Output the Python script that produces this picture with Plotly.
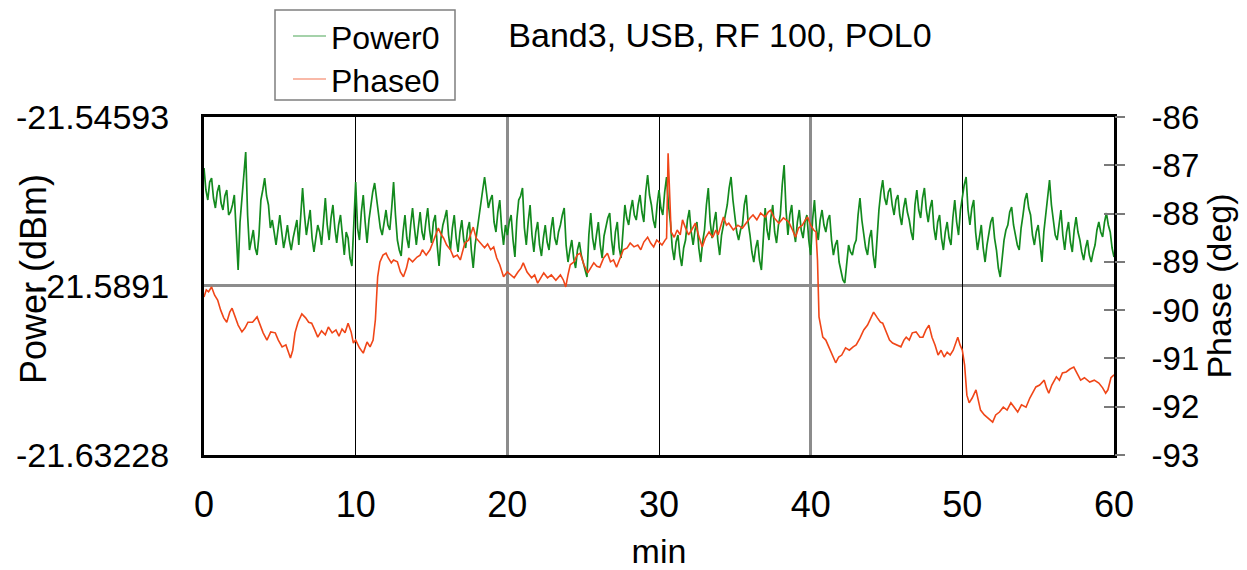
import plotly.graph_objects as go

# ---- data -------------------------------------------------------------
# Power0 (dBm), one sample every 0.125 min over the hour
power_minutes = [i * 0.125 for i in range(481)]
power_dbm = [
    -21.55896, -21.56458, -21.56714, -21.56254, -21.56152, -21.56663, -21.56918, -21.56509, -21.56330, -21.56790,
    -21.56969, -21.56611, -21.56458, -21.57097, -21.57020, -21.56841, -21.56586, -21.57736, -21.58502, -21.57276,
    -21.56714, -21.55947, -21.55487, -21.57097, -21.57991, -21.57736, -21.57480, -21.57940, -21.58119, -21.57608,
    -21.56714, -21.56458, -21.56152, -21.56611, -21.56841, -21.57429, -21.57225, -21.57531, -21.57863, -21.57480,
    -21.57097, -21.57531, -21.57940, -21.57685, -21.57352, -21.57736, -21.57991, -21.57685, -21.57480, -21.57225,
    -21.57863, -21.57020, -21.56407, -21.57097, -21.57608, -21.57276, -21.56969, -21.57685, -21.58042, -21.57685,
    -21.57352, -21.57531, -21.57863, -21.57276, -21.56663, -21.57352, -21.57736, -21.57174, -21.56841, -21.57429,
    -21.57812, -21.57352, -21.57097, -21.57608, -21.58119, -21.57531, -21.57685, -21.58196, -21.58400, -21.57352,
    -21.56254, -21.57429, -21.57736, -21.57020, -21.56586, -21.57276, -21.57812, -21.57225, -21.56841, -21.56509,
    -21.56279, -21.56714, -21.57097, -21.57429, -21.57608, -21.57276, -21.56969, -21.57352, -21.57480, -21.56918,
    -21.56254, -21.57097, -21.57736, -21.57991, -21.58144, -21.57531, -21.57097, -21.57685, -21.57940, -21.57352,
    -21.56918, -21.57429, -21.57863, -21.57429, -21.57020, -21.57531, -21.57736, -21.57276, -21.56918, -21.57480,
    -21.57812, -21.57276, -21.57097, -21.57863, -21.58400, -21.57685, -21.57352, -21.57174, -21.56969, -21.57608,
    -21.57991, -21.57429, -21.57097, -21.57685, -21.58042, -21.57531, -21.57225, -21.57736, -21.57940, -21.57480,
    -21.57276, -21.57991, -21.58451, -21.57863, -21.57480, -21.57225, -21.56841, -21.56458, -21.56126, -21.56586,
    -21.56918, -21.56714, -21.56586, -21.57276, -21.57531, -21.57020, -21.56714, -21.57429, -21.57863, -21.57352,
    -21.57608, -21.57276, -21.57097, -21.57736, -21.58170, -21.57225, -21.56714, -21.56611, -21.56407, -21.57429,
    -21.57863, -21.57276, -21.56841, -21.57608, -21.58042, -21.57531, -21.57276, -21.57863, -21.58144, -21.57685,
    -21.57352, -21.57787, -21.57991, -21.57480, -21.57148, -21.57685, -21.57863, -21.57531, -21.57352, -21.57097,
    -21.56918, -21.57863, -21.58298, -21.57991, -21.57736, -21.58196, -21.58451, -21.57991, -21.57787, -21.58119,
    -21.58298, -21.58502, -21.58681, -21.57608, -21.57046, -21.57685, -21.57991, -21.57608, -21.57276, -21.57863,
    -21.58196, -21.57633, -21.57352, -21.57174, -21.57046, -21.57736, -21.58119, -21.57531, -21.57276, -21.57940,
    -21.58196, -21.57352, -21.56841, -21.57174, -21.57352, -21.56969, -21.56714, -21.57097, -21.57225, -21.56841,
    -21.56586, -21.57020, -21.57276, -21.56509, -21.56075, -21.56586, -21.56841, -21.57225, -21.57429, -21.56841,
    -21.56458, -21.56918, -21.57097, -21.56509, -21.56126, -21.56841, -21.57276, -21.57940, -21.58247, -21.57787,
    -21.57608, -21.58119, -21.58400, -21.57940, -21.57736, -21.57225, -21.56969, -21.57531, -21.57863, -21.57480,
    -21.57276, -21.57940, -21.58298, -21.57787, -21.57480, -21.56841, -21.56407, -21.57276, -21.57685, -21.57276,
    -21.57020, -21.57736, -21.58119, -21.57608, -21.57352, -21.57097, -21.56841, -21.56407, -21.56126, -21.56714,
    -21.57097, -21.57531, -21.57736, -21.57480, -21.57352, -21.56841, -21.56586, -21.57276, -21.57608, -21.58042,
    -21.58298, -21.57940, -21.57736, -21.58247, -21.58502, -21.57531, -21.56918, -21.57480, -21.57736, -21.57174,
    -21.56841, -21.57531, -21.57812, -21.57352, -21.57097, -21.56330, -21.55819, -21.56969, -21.57608, -21.57097,
    -21.56841, -21.57480, -21.57787, -21.57276, -21.56969, -21.57480, -21.57685, -21.57276, -21.57097, -21.57736,
    -21.58119, -21.57225, -21.56714, -21.57429, -21.57736, -21.57225, -21.56969, -21.57352, -21.57531, -21.57225,
    -21.57097, -21.57736, -21.58119, -21.57863, -21.57736, -21.58298, -21.58502, -21.58758, -21.58834, -21.58247,
    -21.57863, -21.58042, -21.58119, -21.57863, -21.57736, -21.57097, -21.56663, -21.57225, -21.57531, -21.57940,
    -21.58119, -21.57685, -21.57480, -21.58119, -21.58451, -21.57608, -21.56969, -21.56509, -21.56203, -21.56663,
    -21.56841, -21.56509, -21.56407, -21.56841, -21.57097, -21.56714, -21.56586, -21.57097, -21.57352, -21.56918,
    -21.56663, -21.57020, -21.57225, -21.57531, -21.57736, -21.56841, -21.56458, -21.56969, -21.57174, -21.56663,
    -21.56407, -21.56969, -21.57276, -21.56918, -21.56714, -21.57429, -21.57736, -21.57276, -21.57097, -21.57685,
    -21.57991, -21.57531, -21.57276, -21.57685, -21.57863, -21.57174, -21.56714, -21.57276, -21.57608, -21.56969,
    -21.56586, -21.56330, -21.56126, -21.56969, -21.57352, -21.56918, -21.56714, -21.57531, -21.57991, -21.57608,
    -21.57352, -21.57940, -21.58298, -21.57863, -21.57608, -21.57276, -21.57148, -21.57685, -21.57991, -21.58451,
    -21.58681, -21.58119, -21.57736, -21.57480, -21.57352, -21.57020, -21.56893, -21.57352, -21.57608, -21.57863,
    -21.57991, -21.57429, -21.57097, -21.56714, -21.56535, -21.56918, -21.57097, -21.57608, -21.57863, -21.57531,
    -21.57352, -21.57940, -21.58298, -21.57531, -21.57097, -21.56509, -21.56203, -21.56841, -21.57225, -21.57608,
    -21.57736, -21.57276, -21.56969, -21.57608, -21.57991, -21.57531, -21.57276, -21.57787, -21.58042, -21.57480,
    -21.57148, -21.57531, -21.57736, -21.58042, -21.58247, -21.57940, -21.57736, -21.58119, -21.58298, -21.58042,
    -21.57863, -21.57480, -21.57276, -21.57531, -21.57659, -21.57276, -21.57046, -21.57352, -21.57531, -21.57940,
    -21.58170,
]

# Phase0: minutes and degrees
phase_minutes = [
    0.0, 0.15, 0.3, 0.5, 0.7, 0.9, 1.1, 1.3, 1.5, 1.7, 1.85, 2.0, 2.25, 2.5, 2.7, 2.9,
    3.2, 3.5, 3.7, 3.9, 4.15, 4.4, 4.7, 4.9, 5.15, 5.4, 5.7, 5.85, 6.0, 6.2, 6.45, 6.7,
    6.9, 7.1, 7.3, 7.5, 7.75, 8.0, 8.2, 8.45, 8.7, 8.9, 9.1, 9.3, 9.5, 9.7, 9.85, 10.0,
    10.25, 10.5, 10.75, 10.95, 11.15, 11.3, 11.45, 11.6, 11.8, 12.0, 12.15, 12.35, 12.5, 12.75,
    12.95, 13.15, 13.35, 13.5, 13.75, 14.05, 14.25, 14.4, 14.65, 14.9, 15.1, 15.3, 15.45, 15.65,
    15.8, 16.0, 16.25, 16.45, 16.7, 16.9, 17.05, 17.2, 17.45, 17.75, 17.95, 18.2, 18.5, 18.7,
    18.9, 19.1, 19.3, 19.5, 19.75, 20.0, 20.2, 20.45, 20.7, 20.9, 21.05, 21.3, 21.6, 21.8,
    22.0, 22.2, 22.4, 22.65, 22.9, 23.2, 23.5, 23.7, 23.85, 24.0, 24.15, 24.4, 24.6, 24.8,
    25.05, 25.3, 25.5, 25.7, 25.9, 26.1, 26.35, 26.6, 26.8, 27.0, 27.2, 27.45, 27.65, 27.9,
    28.1, 28.35, 28.6, 28.8, 29.0, 29.25, 29.45, 29.65, 29.85, 30.0, 30.2, 30.4, 30.5, 30.6,
    30.7, 30.8, 31.0, 31.2, 31.4, 31.55, 31.75, 31.95, 32.15, 32.4, 32.6, 32.85, 33.05, 33.3,
    33.55, 33.75, 33.9, 34.1, 34.25, 34.45, 34.6, 34.9, 35.2, 35.5, 35.8, 36.0, 36.2, 36.45,
    36.7, 37.0, 37.2, 37.35, 37.6, 37.9, 38.2, 38.55, 38.8, 39.0, 39.2, 39.45, 39.65, 39.8,
    40.0, 40.2, 40.35, 40.45, 40.55, 40.8, 41.0, 41.2, 41.45, 41.65, 41.85, 42.05, 42.3, 42.55,
    42.8, 43.0, 43.25, 43.5, 43.75, 43.95, 44.15, 44.4, 44.6, 44.75, 45.0, 45.2, 45.4, 45.65,
    45.95, 46.15, 46.3, 46.5, 46.7, 46.95, 47.2, 47.4, 47.6, 47.8, 48.0, 48.2, 48.4, 48.6,
    48.8, 49.0, 49.2, 49.4, 49.7, 49.85, 50.0, 50.15, 50.3, 50.45, 50.65, 50.9, 51.05, 51.2,
    51.45, 51.7, 52.0, 52.2, 52.45, 52.7, 52.95, 53.2, 53.45, 53.65, 53.9, 54.2, 54.45, 54.65,
    54.85, 55.1, 55.4, 55.55, 55.7, 55.9, 56.2, 56.4, 56.6, 56.85, 57.1, 57.35, 57.6, 57.8,
    58.05, 58.4, 58.7, 59.0, 59.25, 59.45, 59.6, 59.8, 60.0,
]
phase_deg = [
    -89.73, -89.58, -89.62, -89.52, -89.69, -89.79, -90.00, -90.16, -90.25, -90.04, -89.96, -90.10,
    -90.31, -90.45, -90.37, -90.25, -90.25, -90.14, -90.31, -90.47, -90.62, -90.45, -90.47, -90.62,
    -90.76, -90.72, -90.99, -90.83, -90.47, -90.25, -90.08, -90.16, -90.25, -90.27, -90.41, -90.56,
    -90.43, -90.51, -90.35, -90.47, -90.41, -90.54, -90.39, -90.47, -90.27, -90.45, -90.68, -90.62,
    -90.78, -90.89, -90.66, -90.76, -90.62, -90.20, -89.31, -89.00, -88.86, -88.82, -88.92, -89.02,
    -88.96, -89.00, -89.21, -89.31, -89.13, -88.92, -89.00, -88.90, -88.86, -88.75, -88.86, -88.75,
    -88.59, -88.44, -88.30, -88.44, -88.51, -88.65, -88.75, -88.90, -88.86, -88.96, -88.75, -88.61,
    -88.55, -88.28, -88.51, -88.61, -88.71, -88.63, -88.75, -88.69, -88.92, -89.06, -89.31, -89.21,
    -89.27, -89.33, -89.21, -89.13, -89.02, -89.21, -89.33, -89.27, -89.44, -89.33, -89.23, -89.33,
    -89.27, -89.38, -89.27, -89.38, -89.52, -89.27, -89.06, -89.00, -88.86, -88.82, -89.06, -89.23,
    -89.11, -89.02, -89.09, -89.11, -88.92, -88.82, -89.00, -88.96, -89.11, -88.92, -88.75, -88.71,
    -88.61, -88.69, -88.65, -88.75, -88.59, -88.49, -88.61, -88.69, -88.55, -88.59, -88.65, -88.55,
    -88.51, -86.75, -87.72, -88.38, -88.49, -88.34, -88.44, -88.13, -88.30, -88.44, -88.34, -88.20,
    -88.44, -88.69, -88.51, -88.38, -88.49, -88.34, -88.44, -88.24, -88.07, -88.24, -88.20, -88.34,
    -88.24, -88.30, -88.17, -88.09, -88.03, -88.13, -87.99, -88.07, -87.97, -87.93, -88.09, -88.20,
    -88.09, -88.17, -88.34, -88.49, -88.30, -88.24, -88.13, -88.07, -88.24, -88.34, -88.38, -88.96,
    -90.14, -90.56, -90.62, -90.76, -90.93, -91.09, -90.97, -90.93, -90.78, -90.83, -90.76, -90.72,
    -90.58, -90.41, -90.31, -90.16, -90.04, -90.16, -90.25, -90.27, -90.47, -90.62, -90.68, -90.72,
    -90.76, -90.62, -90.56, -90.62, -90.47, -90.45, -90.56, -90.56, -90.41, -90.31, -90.56, -90.72,
    -90.93, -90.83, -90.97, -90.87, -90.93, -90.83, -90.56, -90.72, -90.83, -91.14, -91.76, -91.92,
    -91.82, -91.65, -91.86, -92.07, -92.17, -92.23, -92.32, -92.17, -92.11, -92.01, -92.07, -91.92,
    -92.03, -92.11, -91.96, -92.01, -91.82, -91.69, -91.59, -91.55, -91.45, -91.61, -91.72, -91.55,
    -91.38, -91.45, -91.30, -91.28, -91.22, -91.18, -91.34, -91.45, -91.40, -91.49, -91.45, -91.51,
    -91.61, -91.72, -91.65, -91.40, -91.34,
]

power_ticks = [-21.54593, -21.5891, -21.63228]
power_ticktext = ["-21.54593", "-21.5891", "-21.63228"]
phase_ticks = [-86, -87, -88, -89, -90, -91, -92, -93]
phase_ticktext = ["-86", "-87", "-88", "-89", "-90", "-91", "-92", "-93"]
minute_ticks = [0, 10, 20, 30, 40, 50, 60]
series_names = ["Power0", "Phase0"]

FONT = "Liberation Sans, Arial, sans-serif"
GREEN = "#138a1e"
RED = "#f04618"
GREY = "#8c8c8c"

# plot-area geometry in pixels
L, R, T, B = 204, 1114, 117, 455
W, H = 1247, 570


def px_to_paper(px, py):
    return (px - L) / (R - L), (B - py) / (B - T)


fig = go.Figure()
fig.add_trace(go.Scatter(
    x=power_minutes, y=power_dbm, name=series_names[0], mode="lines",
    line=dict(color=GREEN, width=1.7), xaxis="x", yaxis="y", showlegend=False,
))
fig.add_trace(go.Scatter(
    x=phase_minutes, y=phase_deg, name=series_names[1], mode="lines",
    line=dict(color=RED, width=1.6), xaxis="x", yaxis="y2", showlegend=False,
))
# empty traces so the overlay axes (extra grid / tick layers) get drawn
for xa, ya in (("x2", "y"), ("x3", "y"), ("x", "y3")):
    fig.add_trace(go.Scatter(x=[None], y=[None], xaxis=xa, yaxis=ya,
                             showlegend=False, hoverinfo="skip"))

# hand-built legend box
lx0, ly0 = px_to_paper(275, 100)
lx1, ly1 = px_to_paper(455, 10)
shapes = [dict(type="rect", xref="paper", yref="paper", x0=lx0, y0=ly0, x1=lx1, y1=ly1,
               line=dict(color="#7f7f7f", width=1.5), fillcolor="white", layer="above")]
annotations = []
for name, color, row_y in ((series_names[0], GREEN, 36), (series_names[1], RED, 79)):
    sx0, sy = px_to_paper(293, row_y)
    sx1, _ = px_to_paper(326, row_y)
    shapes.append(dict(type="line", xref="paper", yref="paper", x0=sx0, x1=sx1, y0=sy, y1=sy,
                       line=dict(color=color, width=1.2), opacity=0.75, layer="above"))
    tx, ty = px_to_paper(329, row_y + 2)
    annotations.append(dict(text=name, xref="paper", yref="paper", x=tx, y=ty,
                            xanchor="left", yanchor="middle", showarrow=False,
                            font=dict(family=FONT, size=32, color="black")))

# left axis title
ax, ay = px_to_paper(33, 279)
annotations.append(dict(text="Power (dBm)", xref="paper", yref="paper", x=ax, y=ay,
                        xanchor="center", yanchor="middle", textangle=-90, showarrow=False,
                        font=dict(family=FONT, size=36, color="black")))

fig.update_layout(
    width=W, height=H,
    margin=dict(l=L, r=W - R, t=T, b=H - B, autoexpand=False),
    paper_bgcolor="white", plot_bgcolor="white",
    font=dict(family=FONT, size=34, color="black"),
    showlegend=False,
    shapes=shapes, annotations=annotations,
    title=dict(
        text="Band3, USB, RF 100, POL0", x=720 / W, xref="container",
        xanchor="center", y=1 - 35 / H, yref="container", yanchor="middle",
        font=dict(family=FONT, size=34, color="black"),
    ),
    xaxis=dict(
        range=[0, 60], tickvals=minute_ticks, ticks="", showgrid=False, zeroline=False,
        showline=True, linecolor="black", linewidth=3, mirror=True, automargin=False,
        tickfont=dict(size=36), title=dict(text="min", standoff=18, font=dict(size=34)),
        ticklabelstandoff=16,
    ),
    # thin black grid lines at 10, 30, 50
    xaxis2=dict(
        range=[0, 60], overlaying="x", anchor="y", tickvals=[10, 30, 50],
        showticklabels=False, ticks="", showgrid=True, gridcolor="black", gridwidth=1,
        zeroline=False, showline=False, automargin=False,
    ),
    # wider grey grid lines at 20, 40
    xaxis3=dict(
        range=[0, 60], overlaying="x", anchor="y", tickvals=[20, 40],
        showticklabels=False, ticks="", showgrid=True, gridcolor=GREY, gridwidth=2.5,
        zeroline=False, showline=False, automargin=False,
    ),
    yaxis=dict(
        range=[power_ticks[2], power_ticks[0]], tickvals=power_ticks, ticktext=power_ticktext,
        ticks="", showgrid=True, gridcolor=GREY, gridwidth=2.5, zeroline=False,
        showline=True, linecolor="black", linewidth=3, mirror=True, automargin=False,
        tickfont=dict(size=34), ticklabelstandoff=25,
    ),
    yaxis2=dict(
        range=[-93, -86], overlaying="y", side="right", anchor="x",
        tickvals=phase_ticks, ticktext=phase_ticktext,
        ticks="outside", ticklen=10, tickwidth=2, tickcolor="#7a7a7a",
        showgrid=False, zeroline=False, showline=False, automargin=False,
        tickfont=dict(size=33), title=dict(text="Phase (deg)", standoff=8, font=dict(size=34)),
        ticklabelstandoff=20,
    ),
    yaxis3=dict(
        range=[-93, -86], overlaying="y", side="right", anchor="x", tickvals=phase_ticks,
        ticks="inside", ticklen=10, tickwidth=2, tickcolor="#7a7a7a",
        showticklabels=False, showgrid=False, zeroline=False, showline=False, automargin=False,
    ),
)

fig.write_html("out.html")
